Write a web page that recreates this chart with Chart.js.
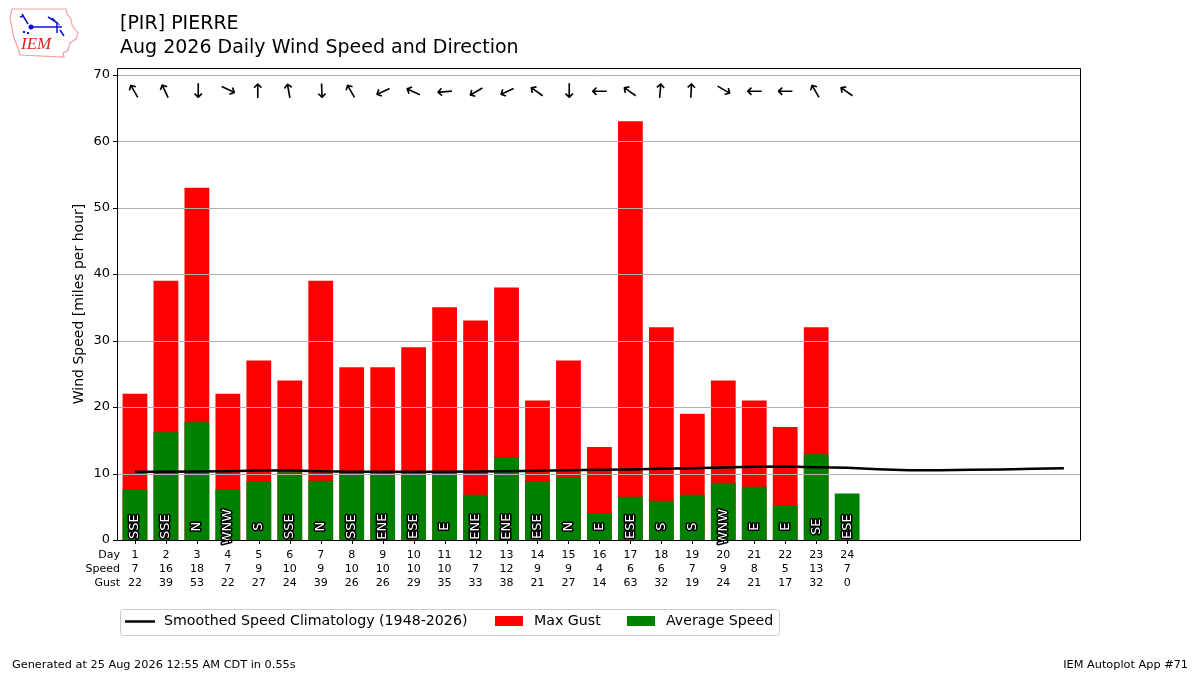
<!DOCTYPE html>
<html><head><meta charset="utf-8">
<script src="https://cdn.jsdelivr.net/npm/chart.js@4.4.1/dist/chart.umd.min.js"></script>
<style>html,body{margin:0;padding:0;background:#fff}#wrap{width:1200px;height:675px;position:relative}</style>
</head><body><div id="wrap"><canvas id="c" width="1200" height="675"></canvas></div>
<script>
// ---- data ----
const days = [1,2,3,4,5,6,7,8,9,10,11,12,13,14,15,16,17,18,19,20,21,22,23,24];
const avgSpeed = [7.6,16.2,17.7,7.6,8.8,10.2,8.9,10.1,9.75,10.0,10.0,6.8,12.5,8.8,9.4,4.0,6.5,5.9,6.8,8.6,8.0,5.2,12.9,7.0];
const maxGust = [22,39,53,22,27,24,39,26,26,29,35,33,38,21,27,14,63,32,19,24,21,17,32,0];
const speedLabels = [7,16,18,7,9,10,9,10,10,10,10,7,12,9,9,4,6,6,7,9,8,5,13,7];
const dirLabels = ["SSE","SSE","N","WNW","S","SSE","N","SSE","ENE","ESE","E","ENE","ENE","ESE","N","E","ESE","S","S","WNW","E","E","SE","ESE"];
const dirFromDeg = [150,155,0,295,180,170,358,150,65,115,85,60,65,125,0,90,125,185,183,300,90,90,150,125];
const climDays = [1,2,3,4,5,6,7,8,9,10,11,12,13,14,15,16,17,18,19,20,21,22,23,24,25,26,27,28,29,30,31];
const climSpeed = [10.25,10.25,10.3,10.35,10.45,10.45,10.35,10.25,10.25,10.25,10.25,10.3,10.35,10.4,10.5,10.55,10.6,10.7,10.8,10.9,11.0,11.05,10.95,10.85,10.65,10.5,10.5,10.55,10.6,10.7,10.8];
const yTicks = [0,10,20,30,40,50,60,70];
const titleLine1 = "[PIR] PIERRE";
const titleLine2 = "Aug 2026 Daily Wind Speed and Direction";
const yTitle = "Wind Speed [miles per hour]";
const legendLabels = ["Smoothed Speed Climatology (1948-2026)","Max Gust","Average Speed"];
const footerLeft = "Generated at 25 Aug 2026 12:55 AM CDT in 0.55s";
const footerRight = "IEM Autoplot App #71";

const FONT = "DejaVu Sans";
const RED = "#ff0000", GREEN = "#008000";

const custom = {
  id: 'custom',
  beforeDatasetDraw(chart, args) {
    if (args.index !== 2) return;
    const ctx = chart.ctx, a = chart.chartArea, ys = chart.scales.y;
    ctx.save();
    ctx.strokeStyle = '#b0b0b0'; ctx.lineWidth = 1;
    yTicks.forEach(v => {
      const y = Math.round(ys.getPixelForValue(v)) + 0.5;
      ctx.beginPath(); ctx.moveTo(a.left, y); ctx.lineTo(a.right, y); ctx.stroke();
    });
    ctx.restore();
  },
  afterDatasetsDraw(chart) {
    const ctx = chart.ctx, a = chart.chartArea, xs = chart.scales.x, ys = chart.scales.y;
    ctx.save();
    // direction labels
    ctx.font = `13px "${FONT}"`;
    ctx.textAlign = 'center'; ctx.textBaseline = 'middle';
    ctx.lineJoin = 'round';
    days.forEach((d, i) => {
      const x = xs.getPixelForValue(d), y = ys.getPixelForValue(2);
      ctx.save(); ctx.translate(x, y); ctx.rotate(-Math.PI / 2);
      ctx.strokeStyle = '#000'; ctx.lineWidth = 3; ctx.strokeText(dirLabels[i], 0, 0);
      ctx.fillStyle = '#fff'; ctx.fillText(dirLabels[i], 0, 0);
      ctx.restore();
    });
    // arrows
    ctx.font = `20px "${FONT}"`;
    ctx.fillStyle = '#000';
    days.forEach((d, i) => {
      const x = xs.getPixelForValue(d), y = ys.getPixelForValue(67.6);
      const to = (dirFromDeg[i] + 180) % 360;
      ctx.save(); ctx.translate(x, y); ctx.rotate((to - 90) * Math.PI / 180);
      ctx.fillText('\u2192', 0, 0);
      ctx.restore();
    });
    // frame
    ctx.strokeStyle = '#000'; ctx.lineWidth = 1;
    ctx.strokeRect(Math.round(a.left) + 0.5, Math.round(a.top) + 0.5, Math.round(a.right - a.left), Math.round(a.bottom - a.top));
    ctx.restore();
  },
  afterDraw(chart) {
    const ctx = chart.ctx, a = chart.chartArea, xs = chart.scales.x, ys = chart.scales.y;
    ctx.save();
    ctx.strokeStyle = '#000'; ctx.lineWidth = 1;
    // y tick marks
    yTicks.forEach(v => {
      const y = Math.round(ys.getPixelForValue(v)) + 0.5;
      ctx.beginPath(); ctx.moveTo(a.left - 4, y); ctx.lineTo(a.left, y); ctx.stroke();
    });
    // x tick marks
    days.forEach(d => {
      const x = Math.round(xs.getPixelForValue(d)) + 0.5;
      ctx.beginPath(); ctx.moveTo(x, a.bottom); ctx.lineTo(x, a.bottom + 4); ctx.stroke();
    });
    // table
    ctx.fillStyle = '#000';
    ctx.font = `11px "${FONT}"`;
    ctx.textBaseline = 'middle';
    ctx.textAlign = 'right';
    ctx.fillText('Day', 120, 555); ctx.fillText('Speed', 120, 569); ctx.fillText('Gust', 120, 583);
    ctx.textAlign = 'center';
    days.forEach((d, i) => {
      const x = xs.getPixelForValue(d);
      ctx.fillText(String(d), x, 555);
      ctx.fillText(String(speedLabels[i]), x, 569);
      ctx.fillText(String(maxGust[i]), x, 583);
    });
    // y title
    ctx.save();
    ctx.font = `14px "${FONT}"`;
    ctx.translate(79, (a.top + a.bottom) / 2); ctx.rotate(-Math.PI / 2);
    ctx.textAlign = 'center'; ctx.fillText(yTitle, 0, 0);
    ctx.restore();
    // titles
    ctx.textAlign = 'left';
    ctx.font = `19px "${FONT}"`;
    ctx.fillText(titleLine1, 120, 24);
    ctx.fillText(titleLine2, 120, 48);
    // legend
    ctx.save();
    ctx.fillStyle = '#fff'; ctx.strokeStyle = '#cccccc'; ctx.lineWidth = 1;
    ctx.beginPath();
    if (ctx.roundRect) ctx.roundRect(120.5, 609.5, 659, 26, 3); else ctx.rect(120.5, 609.5, 659, 26);
    ctx.fill(); ctx.stroke();
    ctx.restore();
    ctx.strokeStyle = '#000'; ctx.lineWidth = 2.5;
    ctx.beginPath(); ctx.moveTo(125, 621.5); ctx.lineTo(155, 621.5); ctx.stroke();
    ctx.fillStyle = RED; ctx.fillRect(495, 616, 28, 10);
    ctx.fillStyle = GREEN; ctx.fillRect(627, 616, 28, 10);
    ctx.fillStyle = '#000'; ctx.font = `14.2px "${FONT}"`;
    ctx.fillText(legendLabels[0], 164, 621);
    ctx.fillText(legendLabels[1], 534, 621);
    ctx.fillText(legendLabels[2], 666, 621);
    // footer
    ctx.font = `11.3px "${FONT}"`;
    ctx.fillText(footerLeft, 12, 665);
    ctx.textAlign = 'right';
    ctx.fillText(footerRight, 1188, 665);
    // logo
    ctx.save();
    ctx.strokeStyle = '#f2a0a0'; ctx.lineWidth = 1.2;
    ctx.beginPath();
    ctx.moveTo(12, 9); ctx.lineTo(66, 9); ctx.lineTo(67, 14); ctx.lineTo(71, 19); ctx.lineTo(72, 25);
    ctx.lineTo(78, 33); ctx.lineTo(76, 39); ctx.lineTo(70, 43); ctx.lineTo(68, 50); ctx.lineTo(63, 53);
    ctx.lineTo(64, 57); ctx.lineTo(20, 55); ctx.lineTo(18, 48); ctx.lineTo(14, 38); ctx.lineTo(12, 28); ctx.lineTo(10, 18); ctx.closePath();
    ctx.stroke();
    ctx.strokeStyle = '#1010d0'; ctx.fillStyle = '#1010d0'; ctx.lineWidth = 1.5;
    ctx.beginPath(); ctx.moveTo(31, 27); ctx.lineTo(62, 27); ctx.stroke();
    ctx.beginPath(); ctx.arc(31, 27, 2.5, 0, Math.PI * 2); ctx.fill();
    ctx.beginPath(); ctx.moveTo(22, 14); ctx.lineTo(28, 24); ctx.moveTo(20, 17); ctx.lineTo(24, 16); ctx.stroke();
    ctx.beginPath(); ctx.moveTo(48, 17); ctx.lineTo(56, 22); ctx.lineTo(52, 18); ctx.stroke();
    ctx.beginPath(); ctx.moveTo(57, 22); ctx.lineTo(57, 33); ctx.moveTo(60, 30); ctx.lineTo(64, 36); ctx.stroke();
    ctx.fillRect(23, 31, 2, 2); ctx.fillRect(27, 32, 2, 2);
    ctx.fillStyle = '#e02020'; ctx.font = `italic 17px "Liberation Serif"`;
    ctx.textAlign = 'left'; ctx.fillText('IEM', 21, 45);
    ctx.restore();
    ctx.restore();
  }
};

new Chart(document.getElementById('c'), {
  type: 'bar',
  data: {
    datasets: [
      { label: legendLabels[1], data: days.map((d, i) => ({ x: d, y: maxGust[i] })), backgroundColor: RED, order: 3, categoryPercentage: 1, barPercentage: 0.8 },
      { label: legendLabels[2], data: days.map((d, i) => ({ x: d, y: avgSpeed[i] })), backgroundColor: GREEN, order: 2, categoryPercentage: 1, barPercentage: 0.8 },
      { type: 'line', label: legendLabels[0], data: climDays.map((d, i) => ({ x: d, y: climSpeed[i] })), borderColor: '#000', borderWidth: 2.5, pointRadius: 0, tension: 0, order: 1 }
    ]
  },
  options: {
    responsive: false, animation: false, devicePixelRatio: 1,
    layout: { padding: { left: 0, top: 68, right: 120, bottom: 135 } },
    plugins: { legend: { display: false }, tooltip: { enabled: false } },
    scales: {
      x: { type: 'linear', min: 0.42, max: 31.52, stacked: true, offset: false, display: false },
      y: {
        min: 0, max: 71,
        grid: { display: false, drawTicks: true, tickLength: 4 },
        border: { display: false },
        ticks: { font: { family: FONT, size: 13 }, color: '#000', padding: 3 },
        afterBuildTicks: s => { s.ticks = yTicks.map(v => ({ value: v })); },
        afterFit: s => { s.width = 117; s.paddingTop = 0; s.paddingBottom = 0; }
      }
    }
  },
  plugins: [custom]
});
</script></body></html>
